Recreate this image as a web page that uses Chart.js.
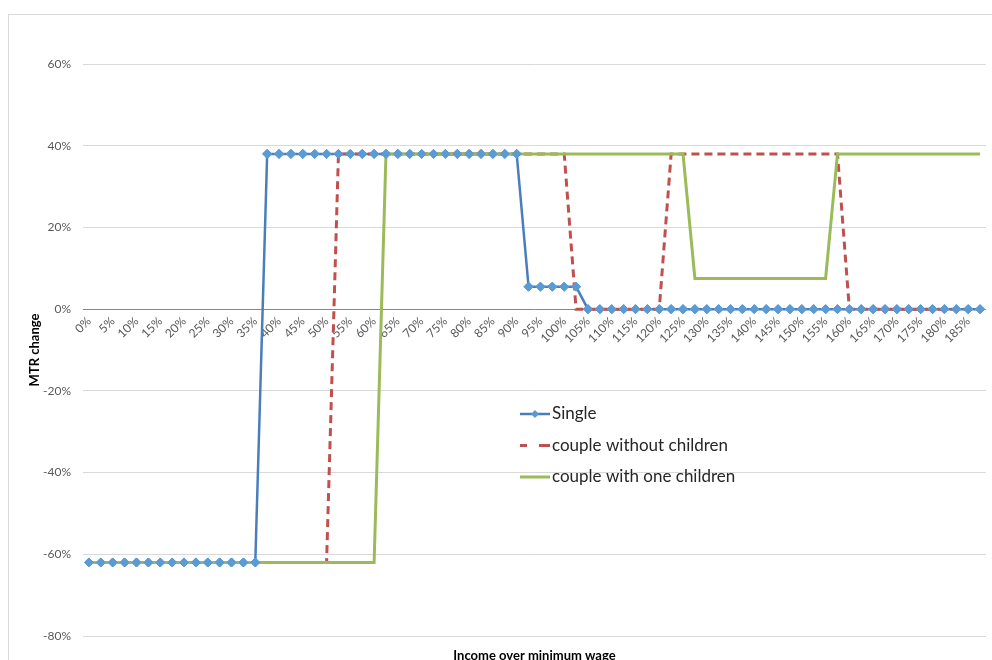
<!DOCTYPE html>
<html>
<head>
<meta charset="utf-8">
<script src="https://cdn.jsdelivr.net/npm/chart.js@4.4.1/dist/chart.umd.min.js"></script>
<style>
  html, body { margin: 0; background: #fff; overflow: hidden; }
  #frame { position: absolute; left: 8px; top: 14px; width: 1000px; height: 700px; border: 1px solid #d9d9d9; }
</style>
</head>
<body>
<div id="frame"><canvas id="mtr" width="1000" height="680"></canvas></div>
<script>
// income as % over the minimum wage, one point every 2.5%
const INCOME = [
  0, 2.5, 5, 7.5, 10, 12.5, 15, 17.5, 20, 22.5,
  25, 27.5, 30, 32.5, 35, 37.5, 40, 42.5, 45, 47.5,
  50, 52.5, 55, 57.5, 60, 62.5, 65, 67.5, 70, 72.5,
  75, 77.5, 80, 82.5, 85, 87.5, 90, 92.5, 95, 97.5,
  100, 102.5, 105, 107.5, 110, 112.5, 115, 117.5, 120, 122.5,
  125, 127.5, 130, 132.5, 135, 137.5, 140, 142.5, 145, 147.5,
  150, 152.5, 155, 157.5, 160, 162.5, 165, 167.5, 170, 172.5,
  175, 177.5, 180, 182.5, 185, 187.5
];

// MTR change in %
const SINGLE = [
  -62, -62, -62, -62, -62, -62, -62, -62, -62, -62,
  -62, -62, -62, -62, -62, 38, 38, 38, 38, 38,
  38, 38, 38, 38, 38, 38, 38, 38, 38, 38,
  38, 38, 38, 38, 38, 38, 38, 5.5, 5.5, 5.5,
  5.5, 5.5, 0, 0, 0, 0, 0, 0, 0, 0,
  0, 0, 0, 0, 0, 0, 0, 0, 0, 0,
  0, 0, 0, 0, 0, 0, 0, 0, 0, 0,
  0, 0, 0, 0, 0, 0
];
const COUPLE = [
  -62, -62, -62, -62, -62, -62, -62, -62, -62, -62,
  -62, -62, -62, -62, -62, -62, -62, -62, -62, -62,
  -62, 38, 38, 38, 38, 38, 38, 38, 38, 38,
  38, 38, 38, 38, 38, 38, 38, 38, 38, 38,
  38, 0, 0, 0, 0, 0, 0, 0, 0, 38,
  38, 38, 38, 38, 38, 38, 38, 38, 38, 38,
  38, 38, 38, 38, 0, 0, 0, 0, 0, 0,
  0, 0, 0, 0, 0, 0
];
const COUPLE_CHILD = [
  -62, -62, -62, -62, -62, -62, -62, -62, -62, -62,
  -62, -62, -62, -62, -62, -62, -62, -62, -62, -62,
  -62, -62, -62, -62, -62, 38, 38, 38, 38, 38,
  38, 38, 38, 38, 38, 38, 38, 38, 38, 38,
  38, 38, 38, 38, 38, 38, 38, 38, 38, 38,
  38, 7.5, 7.5, 7.5, 7.5, 7.5, 7.5, 7.5, 7.5, 7.5,
  7.5, 7.5, 7.5, 38, 38, 38, 38, 38, 38, 38,
  38, 38, 38, 38, 38, 38
];

const Y_MIN = -80;
const Y_MAX = 60;
const Y_STEP = 20;

const FONT = 'Lato, "Open Sans", sans-serif';
const BLUE = '#4a7ebb';
const BLUE_MARK = '#5b9bd5';
const RED = '#c0504d';
const GREEN = '#9bbb59';

// diamonds of Single go over every line, plus the in-plot legend and bottom title
const overlay = {
  id: 'overlay',
  afterDatasetsDraw(chart) {
    const ctx = chart.ctx;
    chart.getDatasetMeta(0).data.forEach((p) => p.draw(ctx, chart.chartArea));
  },
  afterDraw(chart) {
    const { ctx, chartArea } = chart;
    ctx.save();
    ctx.font = 'bold 13px ' + FONT;
    ctx.fillStyle = '#000';
    ctx.textAlign = 'center';
    ctx.textBaseline = 'middle';
    ctx.fillText('Income over minimum wage', (chartArea.left + chartArea.right) / 2, chartArea.bottom + 20);

    const x = 511;
    let y = 399;
    ctx.font = '17px ' + FONT;
    ctx.textAlign = 'left';
    chart.data.datasets.forEach((ds) => {
      ctx.strokeStyle = ds.borderColor;
      ctx.lineWidth = ds.borderWidth;
      ctx.setLineDash(ds.borderDash ? [7, 12, 12, 0] : []);
      ctx.beginPath();
      ctx.moveTo(x, y);
      ctx.lineTo(x + 30, y);
      ctx.stroke();
      ctx.setLineDash([]);
      if (ds.pointRadius) {
        ctx.fillStyle = ds.pointBackgroundColor;
        ctx.beginPath();
        ctx.moveTo(x + 15, y - 4);
        ctx.lineTo(x + 19, y);
        ctx.lineTo(x + 15, y + 4);
        ctx.lineTo(x + 11, y);
        ctx.closePath();
        ctx.fill();
      }
      ctx.fillStyle = '#262626';
      ctx.fillText(ds.label, x + 32, y);
      y += 31.5;
    });
    ctx.restore();
  }
};

new Chart(document.getElementById('mtr'), {
  type: 'line',
  data: {
    labels: INCOME.map((v) => v + '%'),
    datasets: [
      {
        label: 'Single', data: SINGLE, order: 3,
        borderColor: BLUE, borderWidth: 2.5,
        pointStyle: 'rectRot', pointRadius: 4.5,
        pointBackgroundColor: BLUE_MARK, pointBorderColor: BLUE_MARK, pointBorderWidth: 1,
      },
      {
        label: 'couple without children', data: COUPLE, order: 2,
        borderColor: RED, borderWidth: 3, borderDash: [8, 5], pointRadius: 0,
      },
      {
        label: 'couple with one children', data: COUPLE_CHILD, order: 1,
        borderColor: GREEN, borderWidth: 3, pointRadius: 0,
      },
    ],
  },
  options: {
    responsive: false,
    animation: false,
    events: [],
    layout: { padding: { left: 0, right: 23, top: 49, bottom: 59 } },
    elements: { line: { tension: 0 } },
    plugins: { legend: { display: false }, tooltip: { enabled: false } },
    scales: {
      x: {
        type: 'category',
        position: { y: 0 },
        offset: true,
        grid: { display: false, drawTicks: false },
        border: { display: false },
        ticks: {
          autoSkip: false, minRotation: 45, maxRotation: 45, padding: 5,
          color: '#595959', font: { size: 12, family: FONT },
          callback: (v, i) => (i % 2 === 0 ? INCOME[i] + '%' : ''),
        },
      },
      y: {
        min: Y_MIN, max: Y_MAX,
        border: { display: false },
        grid: {
          drawTicks: false,
          color: (c) => (c.tick && c.tick.value === 0 ? '#5b8fd0' : '#d9d9d9'),
        },
        ticks: {
          stepSize: Y_STEP, padding: 12,
          color: '#595959', font: { size: 12, family: FONT },
          callback: (v) => v + '%',
        },
        title: {
          display: true, text: 'MTR change', color: '#000',
          font: { size: 13, weight: 'bold', family: FONT },
          padding: { top: 18, bottom: 0 },
        },
        afterFit(scale) { scale.width = 74; },
      },
    },
  },
  plugins: [overlay],
});
</script>
</body>
</html>
